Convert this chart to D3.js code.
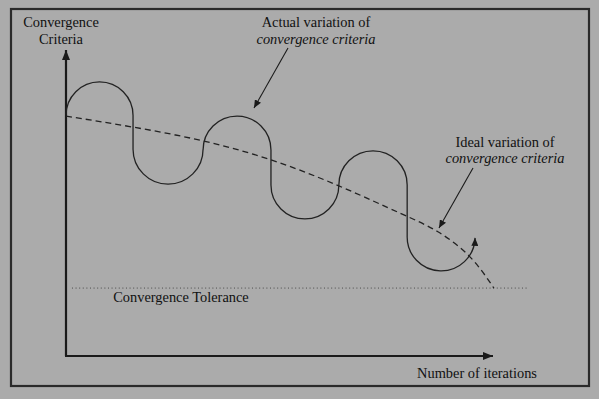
<!DOCTYPE html>
<html>
<head>
<meta charset="utf-8">
<script src="https://cdn.jsdelivr.net/npm/d3@7/dist/d3.min.js"></script>
<style>
  html, body { margin: 0; padding: 0; background: #ababab; }
  svg { display: block; }
  text { font-family: "Liberation Serif", "Times New Roman", serif; fill: #111; }
</style>
</head>
<body>
<svg id="chart" width="599" height="399"></svg>
<script>
// ---- data (chart units: x = iterations 0..100, y = criteria 0..100) ----
// ideal (dashed) variation of convergence criteria
const idealX = [0, 15.7, 32.1, 48.0, 63.9, 78.2, 87.1, 94.6, 100.2];
const idealY = [78.4, 74.8, 70.3, 64.1, 55.6, 46.7, 40.6, 32.4, 22.2];
// actual (wavy) variation: nodes joined by half-circle arcs ("up"/"down") or straight segments ("line")
const actualX    = [0, 15.7, 15.7, 32.1, 32.1, 48.0, 48.0, 63.9, 79.9, 79.9, 95.8];
const actualY    = [78.6, 78.6, 67.6, 67.6, 67.3, 67.3, 55.9, 55.9, 55.9, 39.2, 38.6];
const actualJoin = [null, "up", "line", "down", "line", "up", "line", "down", "up", "line", "down"];
// convergence tolerance (dotted)
const toleranceY = 22.2;
const toleranceX = [1.4, 108.2];
// labels
const yLabel = ["Convergence", "Criteria"];
const xLabel = "Number of iterations";
const actualLabel = ["Actual variation of", "convergence criteria"];
const idealLabel = ["Ideal variation of", "convergence criteria"];
const toleranceLabel = "Convergence Tolerance";

// ---- layout ----
const svg = d3.select("#chart");
const x = d3.scaleLinear().domain([0, 100]).range([66, 493]);
const y = d3.scaleLinear().domain([0, 100]).range([356, 50]);

const defs = svg.append("defs");
function marker(id, len, wid, color) {
  defs.append("marker")
    .attr("id", id)
    .attr("markerUnits", "userSpaceOnUse")
    .attr("viewBox", `0 ${-wid/2} ${len} ${wid}`)
    .attr("refX", len).attr("refY", 0)
    .attr("markerWidth", len).attr("markerHeight", wid)
    .attr("orient", "auto")
    .append("path")
    .attr("d", `M0,${-wid/2}L${len},0L0,${wid/2}Z`)
    .attr("fill", color);
}
marker("axisHead", 10, 8, "#1a1a1a");
marker("noteHead", 8, 7, "#1a1a1a");
marker("waveHead", 8, 7, "#1a1a1a");

// outer frame
svg.append("rect")
  .attr("x", 11).attr("y", 9).attr("width", 578).attr("height", 377)
  .attr("fill", "none").attr("stroke", "#2a2a2a").attr("stroke-width", 2.2);

// axes
svg.append("line")
  .attr("x1", x(0)).attr("y1", y(0)).attr("x2", x(0)).attr("y2", y(100))
  .attr("stroke", "#1a1a1a").attr("stroke-width", 2.2)
  .attr("marker-end", "url(#axisHead)");
svg.append("line")
  .attr("x1", x(0) - 1).attr("y1", y(0)).attr("x2", x(100)).attr("y2", y(0))
  .attr("stroke", "#1a1a1a").attr("stroke-width", 2.2)
  .attr("marker-end", "url(#axisHead)");

// tolerance dotted line
svg.append("line")
  .attr("x1", x(toleranceX[0])).attr("x2", x(toleranceX[1]))
  .attr("y1", y(toleranceY)).attr("y2", y(toleranceY))
  .attr("stroke", "#4a4a4a").attr("stroke-width", 1)
  .attr("stroke-dasharray", "1,2.6");

// ideal dashed curve
const idealPts = idealX.map((v, i) => [x(v), y(idealY[i])]);
svg.append("path")
  .attr("d", d3.line().curve(d3.curveNatural)(idealPts))
  .attr("fill", "none").attr("stroke", "#222").attr("stroke-width", 1.3)
  .attr("stroke-dasharray", "6,4");

// actual wavy curve
let d = `M${x(actualX[0])},${y(actualY[0])}`;
for (let i = 1; i < actualX.length; i++) {
  const px = x(actualX[i]), py = y(actualY[i]);
  const r = (x(actualX[i]) - x(actualX[i - 1])) / 2;
  if (actualJoin[i] === "line") d += `L${px},${py}`;
  else d += `A${r},${r} 0 0 ${actualJoin[i] === "up" ? 1 : 0} ${px},${py}`;
}
svg.append("path")
  .attr("d", d)
  .attr("fill", "none").attr("stroke", "#222").attr("stroke-width", 1.3)
  .attr("marker-end", "url(#waveHead)");

// annotation arrows
svg.append("line")
  .attr("x1", 288).attr("y1", 48).attr("x2", 254).attr("y2", 108)
  .attr("stroke", "#1a1a1a").attr("stroke-width", 1.1)
  .attr("marker-end", "url(#noteHead)");
svg.append("line")
  .attr("x1", 473).attr("y1", 168).attr("x2", 439).attr("y2", 228)
  .attr("stroke", "#1a1a1a").attr("stroke-width", 1.1)
  .attr("marker-end", "url(#noteHead)");

// texts
function label(lines, cx, baselines, italicSecond) {
  lines.forEach((t, i) => {
    svg.append("text")
      .attr("x", cx).attr("y", baselines[i])
      .attr("text-anchor", "middle")
      .attr("font-size", 14.4)
      .attr("font-style", italicSecond && i === 1 ? "italic" : "normal")
      .text(t);
  });
}
label(yLabel, 61, [27, 44], false);
label(actualLabel, 316, [27, 44], true);
label(idealLabel, 505, [147, 163], true);
label([toleranceLabel], 181, [302], false);
label([xLabel], 477, [378], false);
</script>
</body>
</html>
